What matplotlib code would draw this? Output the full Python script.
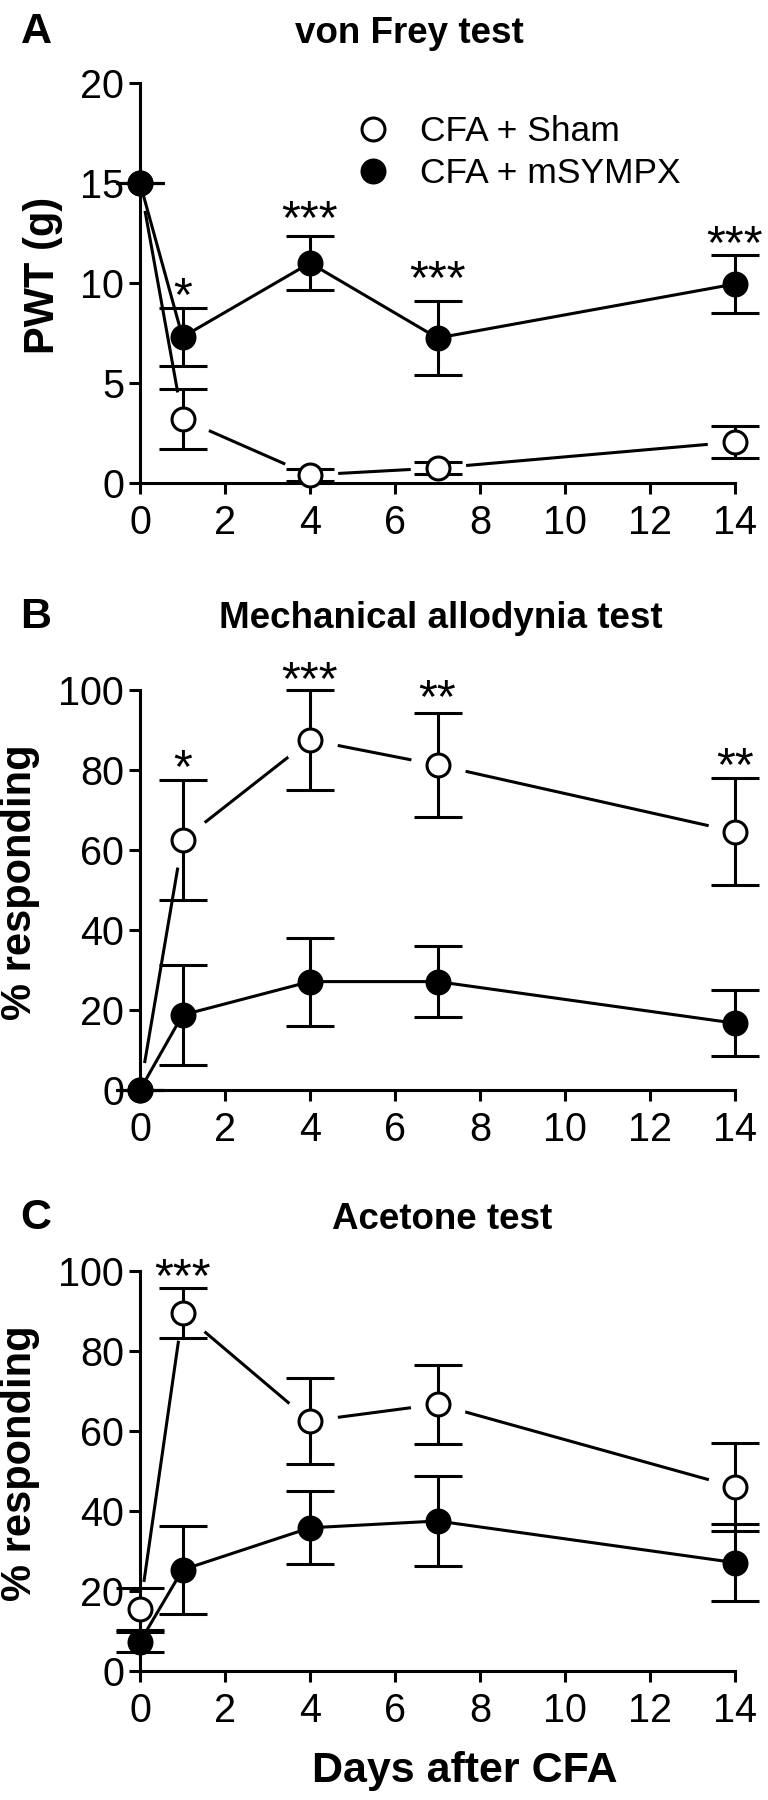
import matplotlib
matplotlib.use('Agg')
import matplotlib.pyplot as plt
from matplotlib.lines import Line2D

days = [0, 1, 4, 7, 14]

# A: von Frey, PWT (g)
vf_sham = [15, 3.2, 0.4, 0.75, 2.05]
vf_sham_sem = [0, 1.5, 0.3, 0.3, 0.8]
vf_symp = [15, 7.3, 11.0, 7.25, 9.95]
vf_symp_sem = [0, 1.45, 1.35, 1.85, 1.45]
vf_stars = [(1, 10.05, '*'), (4, 13.9, '***'), (7, 10.9, '***'), (14, 12.65, '***')]

# B: mechanical allodynia, % responding
ma_sham = [0, 62.5, 87.5, 81.25, 64.6]
ma_sham_sem = [0, 15, 12.5, 13, 13.4]
ma_symp = [0, 18.75, 27.1, 27.1, 16.7]
ma_symp_sem = [0, 12.4, 11, 8.8, 8.3]
ma_stars = [(1, 84, '*'), (4, 106, '***'), (7, 101.6, '**'), (14, 84.6, '**')]

# C: acetone, % responding
ac_sham = [15.5, 89.5, 62.5, 66.7, 46]
ac_sham_sem = [5.3, 6.3, 10.7, 9.9, 10.9]
ac_symp = [7.3, 25.3, 35.8, 37.5, 27.1]
ac_symp_sem = [2.5, 11, 9.1, 11.3, 9.6]
ac_stars = [(1, 102, '***')]

FONT = ['Liberation Sans', 'DejaVu Sans']
LW = 2.2
MS = 16.5
CAP = 17
STAR_FS = 35

plt.rcParams['font.family'] = FONT
plt.rcParams['axes.linewidth'] = LW


def errbars(ax, y, sem):
    eb = ax.errorbar(days, y, yerr=sem, fmt='none', ecolor='black',
                     elinewidth=LW, capsize=CAP, capthick=LW, zorder=3)
    # caps at day 14 sit on the axes edge, don't cut them
    for art in eb.get_children():
        art.set_clip_on(False)


def draw_panel(ax, sham, sham_sem, symp, symp_sem, ylim, yticks, stars):
    # sham line with a white halo round the markers so the line stops short
    ax.plot(days, sham, color='black', lw=LW, zorder=2, clip_on=False)
    ax.plot(days, sham, linestyle='none', marker='o', ms=40,
            mfc='white', mec='none', zorder=2.1, clip_on=False)
    errbars(ax, sham, sham_sem)
    ax.plot(days, symp, color='black', lw=LW, zorder=3, clip_on=False)
    errbars(ax, symp, symp_sem)
    ax.plot(days, sham, linestyle='none', marker='o', ms=MS, mfc='white',
            mec='black', mew=LW, zorder=4, clip_on=False)
    ax.plot(days, symp, linestyle='none', marker='o', ms=MS, mfc='black',
            mec='black', mew=LW, zorder=5, clip_on=False)
    # asterisk ink sits high in the glyph, so anchor on the baseline
    for x, y, s in stars:
        ax.annotate(s, (x, y), xytext=(0, -0.58 * STAR_FS),
                    textcoords='offset points', ha='center', va='baseline',
                    fontsize=STAR_FS, annotation_clip=False)

    ax.set_xlim(0, 14)
    ax.set_ylim(*ylim)
    ax.set_xticks(range(0, 15, 2))
    ax.set_yticks(yticks)
    ax.set_axisbelow(False)  # keep ticks and labels above the white halos
    ax.spines['top'].set_visible(False)
    ax.spines['right'].set_visible(False)
    ax.tick_params(direction='out', length=8, width=LW, labelsize=28.5)
    ax.tick_params(axis='x', pad=7)
    ax.tick_params(axis='y', pad=3.5)


fig = plt.figure(figsize=(7.68, 18), dpi=100)
left, width = 140 / 768, 595 / 768
axA = fig.add_axes([left, 1 - 483 / 1800, width, 400 / 1800])
axB = fig.add_axes([left, 1 - 1090 / 1800, width, 400 / 1800])
axC = fig.add_axes([left, 1 - 1671 / 1800, width, 400 / 1800])

draw_panel(axA, vf_sham, vf_sham_sem, vf_symp, vf_symp_sem, (0, 20),
           [0, 5, 10, 15, 20], vf_stars)
draw_panel(axB, ma_sham, ma_sham_sem, ma_symp, ma_symp_sem, (0, 100),
           [0, 20, 40, 60, 80, 100], ma_stars)
draw_panel(axC, ac_sham, ac_sham_sem, ac_symp, ac_symp_sem, (0, 100),
           [0, 20, 40, 60, 80, 100], ac_stars)

axA.set_ylabel('PWT (g)', fontsize=30, fontweight='bold')
axA.yaxis.set_label_coords(-0.13, 0.52)
for ax in (axB, axC):
    ax.set_ylabel('% responding', fontsize=30, fontweight='bold')
    ax.yaxis.set_label_coords(-0.168, 0.52)
axC.set_xlabel('Days after CFA', fontsize=31, fontweight='bold')
axC.xaxis.set_label_coords(0.546, -0.2)

titles = [('A', 'von Frey test', 43, 409), ('B', 'Mechanical allodynia test', 628, 441),
          ('C', 'Acetone test', 1229, 442)]
for letter, title, ypix, xpix in titles:
    fig.text(36 / 768, 1 - ypix / 1800, letter, ha='center', va='baseline',
             fontsize=31, fontweight='bold')
    fig.text(xpix / 768, 1 - ypix / 1800, title, ha='center', va='baseline',
             fontsize=26.5, fontweight='bold')

handles = [
    Line2D([], [], linestyle='none', marker='o', ms=MS, mfc='white',
           mec='black', mew=LW),
    Line2D([], [], linestyle='none', marker='o', ms=MS, mfc='black',
           mec='black', mew=LW),
]
axA.legend(handles, ['CFA + Sham', 'CFA + mSYMPX'], loc='center left',
           bbox_to_anchor=(0.364, 0.826), frameon=False, fontsize=25.5,
           handlelength=0.95, handletextpad=0.85, labelspacing=0.25,
           borderaxespad=0, borderpad=0)

fig.savefig('out.png', dpi=100)
